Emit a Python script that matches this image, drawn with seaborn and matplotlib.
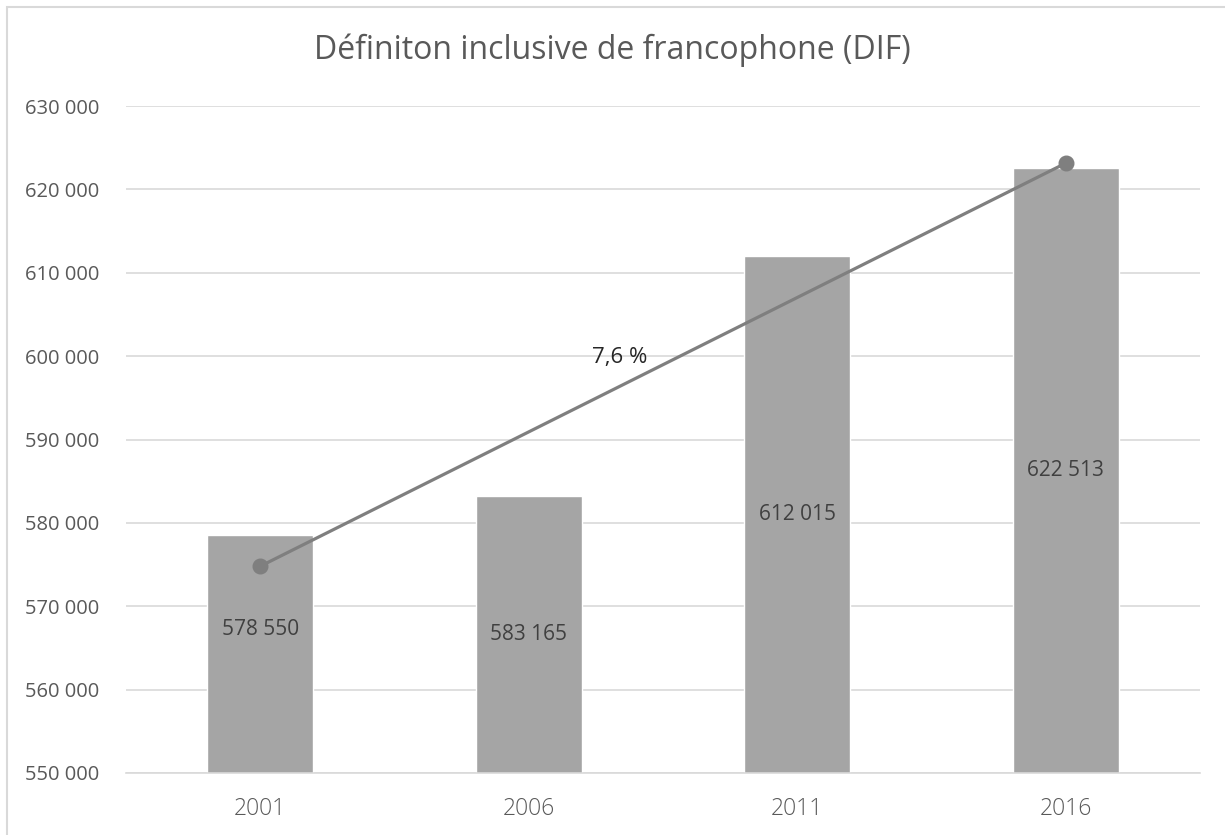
import numpy as np
import pandas as pd
import seaborn as sns
import matplotlib.pyplot as plt
from matplotlib.patches import Rectangle

# data
years = ["2001", "2006", "2011", "2016"]
population = [578550, 583165, 612015, 622513]
trend_start = 574800
trend_end = 623150
growth_label = "7,6 %"

BAR_COLOR = "#A5A5A5"
LINE_COLOR = "#7F7F7F"
GRID_COLOR = "#D9D9D9"
TEXT_COLOR = "#595959"


def fmt_space(v):
    return f"{int(v):,}".replace(",", " ")


sns.set_theme(style="white")
plt.rcParams['font.family'] = ['Open Sans', 'DejaVu Sans']

df = pd.DataFrame({"year": years, "population": population})

fig = plt.figure(figsize=(12.25, 8.35), dpi=100)
ax = fig.add_axes([0.1029, 0.0743, 0.8767, 0.7987])

sns.barplot(data=df, x="year", y="population", color=BAR_COLOR,
            width=0.395, saturation=1, ax=ax, zorder=2)

# trend line between first and last year
ax.plot([0, len(years) - 1], [trend_start, trend_end],
        color=LINE_COLOR, linewidth=2.3, marker="o", markersize=10.5,
        zorder=3)
ax.text(1.34, 599800, growth_label, ha="center", va="center",
        fontsize=16, color="#262626", zorder=4)

# data labels, centered in the visible part of each bar
ymin, ymax = 550000, 630000
label_y = [(ymin + v) / 2 for v in population]
label_y[0] = 567200
for i, v in enumerate(population):
    ax.text(i, label_y[i], fmt_space(v), ha="center", va="center",
            fontsize=15, color="#404040", zorder=4)

ax.set_ylim(ymin, ymax)
ax.set_xlim(-0.5, len(years) - 0.5)
ticks = np.arange(ymin, ymax + 1, 10000)
ax.set_yticks(ticks)
ax.set_yticklabels([fmt_space(t) for t in ticks], fontsize=14.5, color=TEXT_COLOR)
ax.set_xticks(range(len(years)))
ax.set_xticklabels(years, fontsize=16.5, color=TEXT_COLOR, fontweight="light")
ax.tick_params(axis="y", length=0, pad=72.5)
for lbl in ax.get_yticklabels():
    lbl.set_horizontalalignment("left")
ax.tick_params(axis="x", length=0, pad=17)
ax.set_xlabel("")
ax.set_ylabel("")
ax.yaxis.grid(True, color=GRID_COLOR, linewidth=1.2, zorder=0)
ax.set_axisbelow(True)
for side in ["top", "right", "left"]:
    ax.spines[side].set_visible(False)
ax.spines["bottom"].set_color(GRID_COLOR)
ax.spines["bottom"].set_linewidth(1.2)

fig.text(0.5, 0.94, "Définiton inclusive de francophone (DIF)", ha="center",
         va="center", fontsize=23, color=TEXT_COLOR)

# light frame around the chart area
fig.patches.append(Rectangle((7 / 1225, -0.05), 1.1, 1.05 - 7 / 835,
                             transform=fig.transFigure, fill=False,
                             edgecolor=GRID_COLOR, linewidth=1.5))

fig.savefig("out.png", dpi=100)
plt.close()
